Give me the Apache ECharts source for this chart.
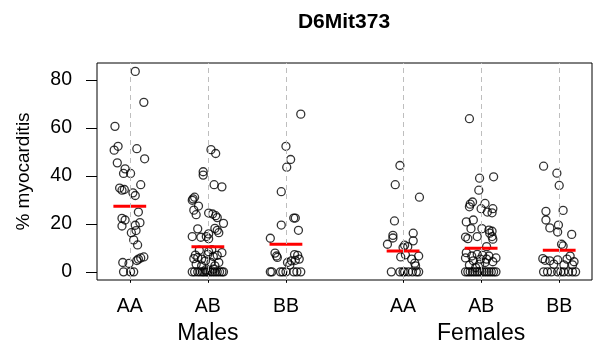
<!DOCTYPE html>
<html>
<head>
<meta charset="utf-8">
<script src="https://cdn.jsdelivr.net/npm/echarts@6/dist/echarts.min.js"></script>
<style>
html,body{margin:0;padding:0;background:#fff;}
#main{width:597px;height:345px;}
</style>
</head>
<body>
<div id="main"></div>
<script>
// group centres on the x axis, genotype labels, sex labels
var positions = [1, 2, 3, 4.5, 5.5, 6.5];
var genotypes = ['AA', 'AB', 'BB', 'AA', 'AB', 'BB'];
var sexPositions = [2, 5.5];
var sexLabels = ['Males', 'Females'];
var groupMeans = [27.3, 10.4, 11.5, 8.7, 9.8, 9.0];

// [jitter, % myocarditis] for each group
var maleAA = [[0.07,83.5],[0.18,70.6],[-0.19,60.6],[-0.2,50.7],[-0.15,52.3],[0.09,51.3],[0.19,47.1],[-0.16,45.4],
  [-0.06,42.9],[-0.08,41.0],[0.01,41.0],[0.14,36.3],[-0.13,34.9],[-0.1,34.0],[-0.07,34.3],[0.04,32.9],[0.07,31.8],
  [0.11,24.9],[-0.1,22.3],[-0.06,21.6],[0.13,20.5],[-0.1,19.1],[0.07,19.4],[0.08,17.2],[0.02,16.3],[0.05,13.3],
  [0.1,11.2],[-0.09,3.9],[-0.01,3.5],[0.09,4.7],[0.14,5.8],[0.18,6.2],[0.11,5.3],[-0.08,0],[0.01,0],[0.05,0]];
var maleAB = [[0.04,50.9],[0.1,49.3],[-0.06,41.7],[-0.06,40.3],[0.08,36.3],[0.18,35.4],[-0.19,30.4],[-0.17,31.1],
  [-0.2,29.8],[-0.12,27.4],[-0.18,25.7],[-0.15,23.8],[0.01,24.5],[0.06,24.1],[0.1,23.4],[0.12,22.6],[0.2,20.2],
  [-0.13,17.9],[0.12,17.3],[0.09,18.1],[0.14,16.3],[0.01,15.8],[-0.02,14.7],[-0.2,14.7],[-0.09,14.4],[0.01,13.8],
  [0.18,8.0],[-0.13,6.0],[0,7.3],[-0.18,5.5],[-0.08,5.3],[0.07,6.4],[0.12,6.9],[-0.03,4.6],[0.04,3.9],[0.14,3.9],
  [-0.15,3.2],[-0.08,2.5],[0.09,2.5],[0.01,8.4],[-0.03,0.8],[0.07,1.1],[-0.11,9.0],[0.05,9.2],[-0.16,7.0],
  [-0.2,0],[-0.17,0],[-0.13,0],[-0.1,0],[-0.07,0],[-0.05,0],[-0.02,0],[0,0],[0.03,0],[0.06,0],[0.09,0],[0.12,0],
  [0.15,0],[0.18,0],[0.2,0]];
var maleBB = [[0.19,65.7],[0,52.3],[0.06,46.8],[0.01,43.6],[-0.06,33.4],[0.1,22.4],[0.12,22.4],[-0.06,19.5],
  [0.16,17.3],[-0.2,14.0],[-0.14,7.8],[-0.11,6.0],[-0.12,6.6],[0.11,7.2],[0.15,6.9],[0.02,3.9],[0.07,4.6],
  [0.12,4.8],[0.17,5.3],[0.05,2.9],[-0.2,0],[-0.18,0],[-0.07,0],[-0.04,0],[0,0],[0.1,0],[0.14,0],[0.19,0]];
var femaleAA = [[-0.04,44.3],[-0.1,36.3],[0.21,31.1],[-0.11,21.2],[-0.13,15.2],[-0.13,14.1],[0.13,16.1],[0.13,12.9],
  [-0.2,11.5],[0.02,11.1],[0,10.1],[0.06,10.5],[0.2,6.6],[-0.03,6.2],[0.03,7.1],[0.11,5.3],[0.15,3.6],[0.16,2.5],
  [-0.15,0],[-0.04,0],[0,0],[0.02,0],[0.07,0],[0.12,0],[0.17,0],[0.2,0]];
var femaleAB = [[-0.15,63.8],[-0.02,39.0],[0.16,39.6],[-0.03,34.0],[-0.11,29.1],[-0.14,28.2],[-0.15,27.1],[0.05,28.5],
  [0,26.3],[0.15,26.3],[0.08,24.9],[0.14,24.6],[-0.19,20.8],[-0.1,21.6],[-0.13,18.0],[0.01,18.0],[0.1,17.4],
  [0.14,16.9],[0.11,16.1],[-0.2,14.5],[-0.17,13.8],[-0.05,14.7],[0.14,14.7],[0.15,13.6],[0.07,10.5],
  [-0.19,8.0],[-0.12,6.6],[-0.2,5.8],[-0.05,7.3],[0.02,6.9],[0.1,6.6],[0.19,5.8],[-0.1,4.6],[-0.01,5.3],
  [0.05,3.9],[0.15,4.2],[-0.15,2.8],[-0.02,3.2],[0.07,5.3],[-0.07,1.8],
  [-0.2,0],[-0.17,0],[-0.14,0],[-0.11,0],[-0.08,0],[-0.05,0],[-0.02,0],[0.01,0],[0.04,0],[0.07,0],[0.1,0],
  [0.13,0],[0.16,0],[0.19,0]];
var femaleBB = [[-0.2,44.0],[-0.03,41.1],[0,36.0],[0.05,25.6],[-0.17,25.2],[-0.17,21.6],[-0.12,18.3],[-0.01,19.5],
  [-0.02,16.6],[0.16,15.6],[0.03,11.5],[0.05,10.8],[0.14,6.6],[-0.21,5.5],[-0.18,4.8],[-0.12,4.6],[-0.02,5.0],
  [0.1,5.3],[0.19,4.2],[0.17,2.9],[0.06,2.9],[-0.07,3.2],
  [-0.2,0],[-0.15,0],[-0.1,0],[-0.02,0],[0.02,0],[0.06,0],[0.12,0],[0.17,0],[0.21,0]];
var yTicks = [0, 20, 40, 60, 80];

var groups = [maleAA, maleAB, maleBB, femaleAA, femaleAB, femaleBB];
var points = [];
groups.forEach(function(g, i){
  g.forEach(function(d){ points.push([positions[i] + d[0], d[1]]); });
});
var means = positions.map(function(p, i){ return [p, groupMeans[i]]; });

var font = 'Liberation Sans, Arial, sans-serif';
var chart = echarts.init(document.getElementById('main'));
chart.setOption({
  animation: false,
  backgroundColor: '#fff',
  title: {
    text: 'D6Mit373',
    left: 344, top: 12, padding: 0,
    textAlign: 'center',
    textStyle: {fontFamily: font, fontSize: 21, fontWeight: 'bold', color: '#000'}
  },
  grid: {left: 97, right: 5, top: 63, bottom: 64, show: true, borderColor: '#000', borderWidth: 1},
  xAxis: [{
    type: 'value', min: 0.58, max: 6.92,
    splitLine: {show: false},
    axisLine: {show: false},
    axisTick: {show: true, length: 11, customValues: positions, lineStyle: {color: '#000'}},
    axisLabel: {
      customValues: positions, margin: 17,
      fontFamily: font, fontSize: 19.5, color: '#000',
      formatter: function(v){ return genotypes[positions.indexOf(v)]; }
    }
  }, {
    type: 'value', min: 0.58, max: 6.92, position: 'bottom',
    splitLine: {show: false},
    axisLine: {show: false},
    axisTick: {show: false},
    axisLabel: {
      customValues: sexPositions, margin: 42,
      fontFamily: font, fontSize: 23, color: '#000',
      formatter: function(v){ return sexLabels[sexPositions.indexOf(v)]; }
    }
  }],
  yAxis: {
    type: 'value', min: -3.4, max: 87,
    name: '% myocarditis', nameLocation: 'middle', nameGap: 64, nameRotate: 90,
    nameTextStyle: {fontFamily: font, fontSize: 19, color: '#000'},
    splitLine: {show: false},
    axisLine: {show: false},
    axisTick: {show: true, length: 11, customValues: yTicks, lineStyle: {color: '#000'}},
    axisLabel: {customValues: yTicks, margin: 25, fontFamily: font, fontSize: 19.5, color: '#000'}
  },
  series: [{
    type: 'scatter',
    data: points,
    symbol: 'circle',
    symbolSize: 8,
    itemStyle: {color: 'rgba(0,0,0,0)', borderColor: '#000', borderWidth: 1.3},
    markLine: {
      silent: true,
      symbol: ['none', 'none'],
      label: {show: false},
      lineStyle: {color: '#bebebe', type: [5, 4], width: 1},
      data: positions.map(function(p){ return {xAxis: p}; })
    },
    z: 3
  }, {
    type: 'custom',
    data: means,
    renderItem: function(params, api){
      var p = api.value(0), m = api.value(1);
      var a = api.coord([p - 0.21, m]);
      var b = api.coord([p + 0.21, m]);
      return {type: 'line', shape: {x1: a[0], y1: a[1], x2: b[0], y2: b[1]},
        style: {stroke: '#ff0000', lineWidth: 3}};
    },
    z: 4
  }]
});
</script>
</body>
</html>
